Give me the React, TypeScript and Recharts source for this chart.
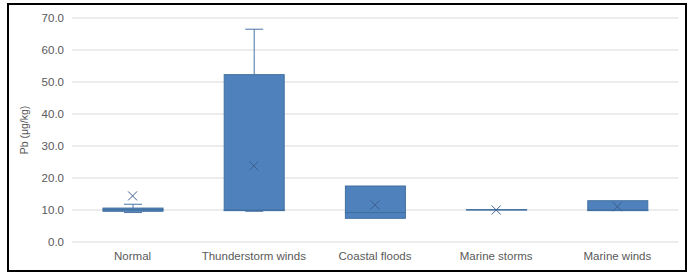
import React from 'react';
import { ComposedChart, Bar, Scatter, XAxis, YAxis, CartesianGrid } from 'recharts';

const categories = ['Normal', 'Thunderstorm winds', 'Coastal floods', 'Marine storms', 'Marine winds'];
const minVals = [9.2, 9.6, 7.4, 10.0, 9.8];
const q1Vals = [9.6, 9.8, 7.4, 10.0, 9.8];
const medianVals = [10.1, 10.0, 9.2, 10.05, 10.0];
const q3Vals = [10.6, 52.3, 17.5, 10.1, 12.9];
const maxVals = [11.8, 66.5, 17.5, 10.1, 12.9];
const meanVals = [14.4, 23.8, 11.6, 10.0, 11.0];
const yTicks = [0, 10, 20, 30, 40, 50, 60, 70];

const BOX_FILL = '#4f81bd';
const BOX_STROKE = '#41709f';
const WHISKER = '#4a74a8';
const MEAN = '#3d5f8f';

const data = categories.map((name, i) => ({
  name,
  base: minVals[i],
  lowW: q1Vals[i] - minVals[i],
  boxLo: medianVals[i] - q1Vals[i],
  boxHi: q3Vals[i] - medianVals[i],
  upW: maxVals[i] - q3Vals[i],
  mean: meanVals[i],
}));

const WhiskerLow = (props: any) => {
  const { x, y, width, height } = props;
  if (!height || height < 0.5) return <g />;
  const cx = x + width / 2;
  const cap = width * 0.15;
  return (
    <g>
      <line x1={cx} x2={cx} y1={y} y2={y + height} stroke={WHISKER} strokeWidth={1} />
      <line x1={cx - cap} x2={cx + cap} y1={y + height} y2={y + height} stroke={WHISKER} strokeWidth={1} />
    </g>
  );
};

const WhiskerHigh = (props: any) => {
  const { x, y, width, height } = props;
  if (!height || height < 0.5) return <g />;
  const cx = x + width / 2;
  const cap = width * 0.15;
  return (
    <g>
      <line x1={cx} x2={cx} y1={y} y2={y + height} stroke={WHISKER} strokeWidth={1} />
      <line x1={cx - cap} x2={cx + cap} y1={y} y2={y} stroke={WHISKER} strokeWidth={1} />
    </g>
  );
};

const BoxPart = (props: any) => {
  const { x, y, width, height } = props;
  return <rect x={x} y={y} width={width} height={Math.max(height, 0)} fill={BOX_FILL} stroke={BOX_STROKE} strokeWidth={1} />;
};

const MeanMark = (props: any) => {
  const { cx, cy } = props;
  const s = 4.5;
  return (
    <g stroke={MEAN} strokeWidth={1}>
      <line x1={cx - s} y1={cy - s} x2={cx + s} y2={cy + s} />
      <line x1={cx - s} y1={cy + s} x2={cx + s} y2={cy - s} />
    </g>
  );
};

export default function App() {
  const font = "'Liberation Sans', Arial, sans-serif";
  return (
    <div
      style={{
        position: 'absolute',
        left: 7,
        top: 3,
        width: 676,
        height: 265,
        border: '2px solid #000',
        background: '#fff',
      }}
    >
      <ComposedChart
        width={676}
        height={265}
        data={data}
        margin={{ top: 13, right: 7, left: 0, bottom: 0 }}
        barSize={60}
      >
        <CartesianGrid vertical={false} stroke="#d9d9d9" />
        <XAxis
          dataKey="name"
          axisLine={false}
          tickLine={false}
          height={28}
          tickMargin={4}
          tick={{ fill: '#595959', fontSize: 11.5, fontFamily: font }}
        />
        <YAxis
          domain={[0, 70]}
          ticks={yTicks}
          width={63}
          axisLine={false}
          tickLine={false}
          tickFormatter={(v: number) => v.toFixed(1)}
          tick={{ fill: '#595959', fontSize: 11.5, fontFamily: font }}
          label={{
            value: 'Pb (μg/kg)',
            angle: -90,
            position: 'insideLeft',
            offset: 15,
            style: { textAnchor: 'middle', fill: '#595959', fontSize: 10.5, fontFamily: font },
          }}
        />
        <Bar dataKey="base" stackId="a" fill="transparent" isAnimationActive={false} />
        <Bar dataKey="lowW" stackId="a" shape={WhiskerLow} isAnimationActive={false} />
        <Bar dataKey="boxLo" stackId="a" shape={BoxPart} isAnimationActive={false} />
        <Bar dataKey="boxHi" stackId="a" shape={BoxPart} isAnimationActive={false} />
        <Bar dataKey="upW" stackId="a" shape={WhiskerHigh} isAnimationActive={false} />
        <Scatter dataKey="mean" shape={MeanMark} isAnimationActive={false} />
      </ComposedChart>
    </div>
  );
}
